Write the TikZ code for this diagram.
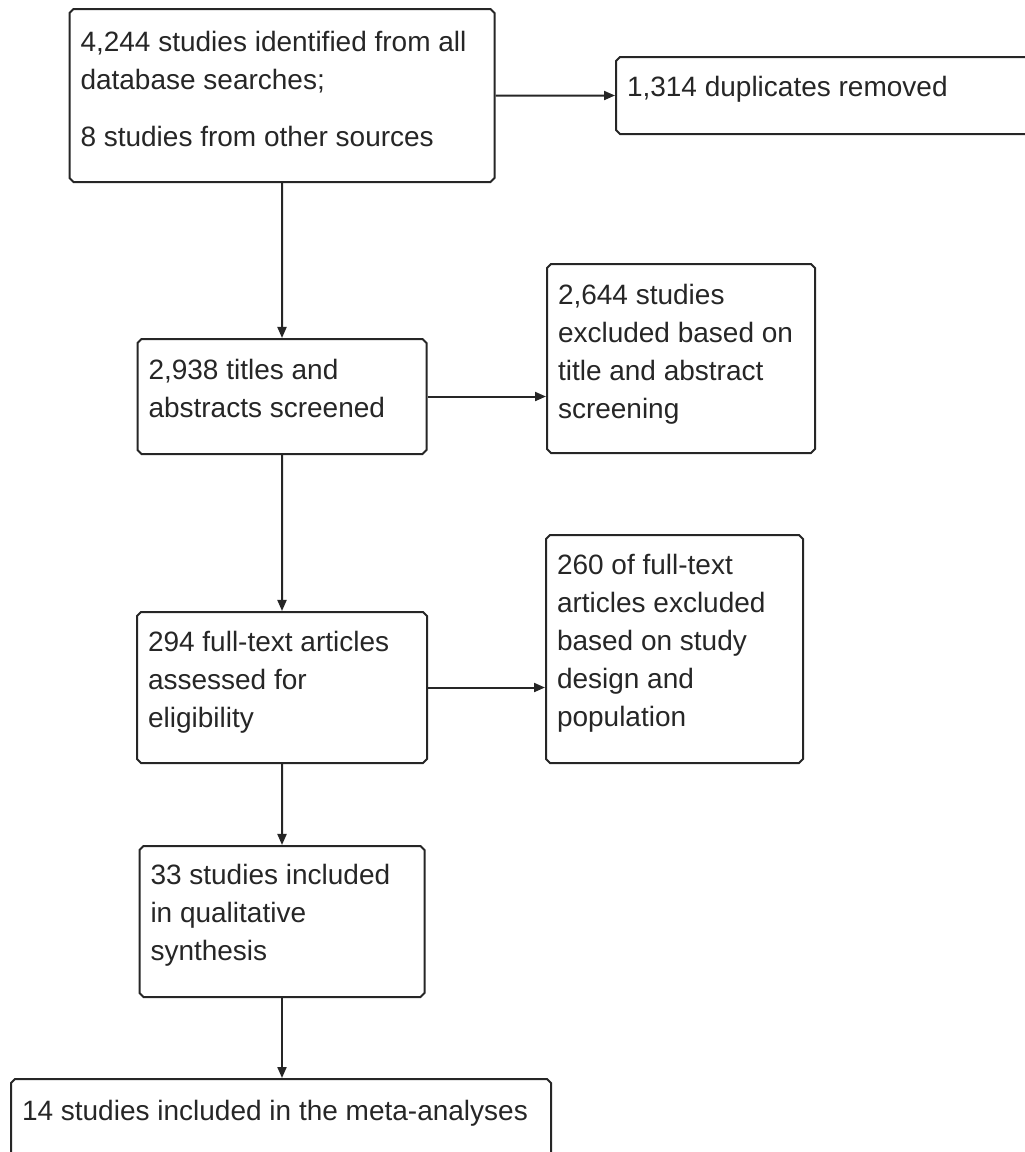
\documentclass[tikz,border=0pt]{standalone}
\usepackage{fontspec}
\setmainfont{Liberation Sans}
\usetikzlibrary{shapes.misc,arrows.meta}

% fixed-size box content: width, height, text (first baseline set by the optional strut)
\newcommand{\boxtext}[4][38pt]{\parbox[c][#3][t]{#2}{\raggedright\rule{0pt}{#1}#4}}

\begin{document}
\begin{tikzpicture}[x=1pt, y=-1pt, font=\fontsize{28}{38}\selectfont]
        \tikzset{
            stepBox/.style={
                draw=black!85,
                text=black!85,
                line width=2pt,
                chamfered rectangle,
                chamfered rectangle xsep=2pt,
                chamfered rectangle ysep=2pt,
                inner xsep=9pt,
                inner ysep=0pt
            },
            flowArrow/.style={draw=black!85, line width=2pt, -{Triangle[length=11pt,width=9pt]}}
        }

        \useasboundingbox (0,0) rectangle (1025,1152);
        \clip (0,0) rectangle (1025,1152);

        \node[stepBox] (searchBox) at (282,95.5) {\boxtext[40pt]{403pt}{169pt}{4,244 studies identified from all\\database searches;\\[19pt]8 studies from other sources}};
        \node[stepBox] (dupBox) at (828,95.5) {\boxtext[37pt]{402pt}{73pt}{1,314 duplicates removed}};

        \node[stepBox] (screenBox) at (282,396.5) {\boxtext{267pt}{111pt}{2,938 titles and\\abstracts screened}};
        \node[stepBox] (screenExclBox) at (681,358.5) {\boxtext{246pt}{185pt}{2,644 studies\\excluded based on\\title and abstract\\screening}};

        \node[stepBox] (fullTextBox) at (282,687.5) {\boxtext[37pt]{268pt}{147pt}{294 full-text articles\\assessed for\\eligibility}};
        \node[stepBox] (fullTextExclBox) at (674.5,649) {\boxtext[37pt]{235pt}{224pt}{260 of full-text\\articles excluded\\based on study\\design and\\population}};

        \node[stepBox] (qualBox) at (282,921.5) {\boxtext[36pt]{263pt}{147pt}{33 studies included\\in qualitative\\synthesis}};
        \node[stepBox] (metaBox) at (281,1129.5) {\boxtext[39pt]{518pt}{97pt}{14 studies included in the meta-analyses}};

        \draw[flowArrow] (searchBox) -- (dupBox);
        \draw[flowArrow] (searchBox) -- (screenBox);
        \draw[flowArrow] (screenBox.east) -- (screenBox.east -| screenExclBox.west);
        \draw[flowArrow] (screenBox) -- (fullTextBox);
        \draw[flowArrow] (fullTextBox.east) -- (fullTextBox.east -| fullTextExclBox.west);
        \draw[flowArrow] (fullTextBox) -- (qualBox);
        \draw[flowArrow] (qualBox.south) -- (qualBox.south |- metaBox.north);
    \end{tikzpicture}
\end{document}
